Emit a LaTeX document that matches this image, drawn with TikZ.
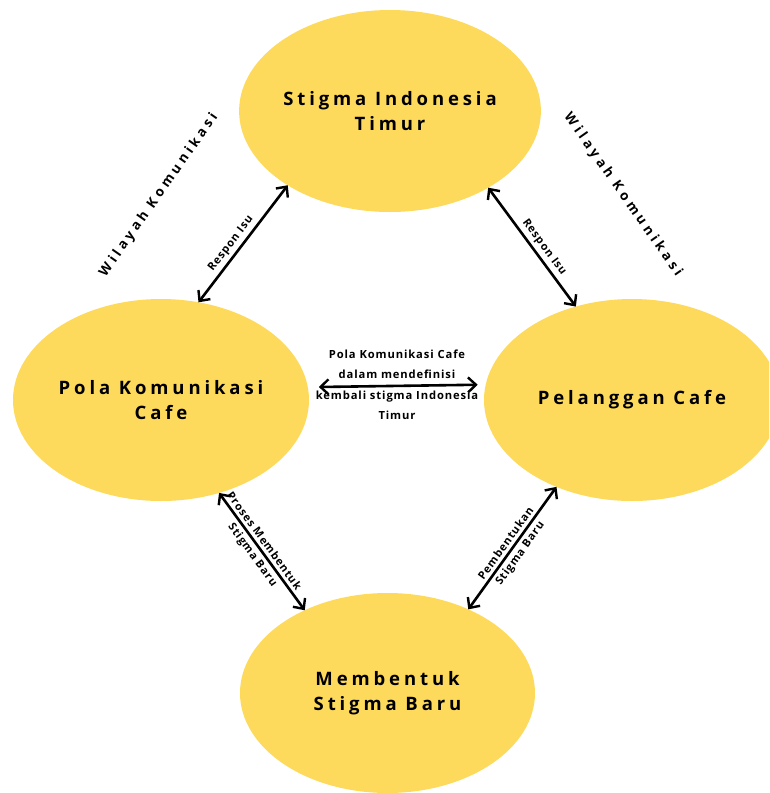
\documentclass[tikz,border=0pt]{standalone}
\usepackage{fontspec}
\setmainfont{Open Sans}[BoldFont={Open Sans Bold}]
\newfontfamily\labfont{Open Sans Bold}[LetterSpace=8]
\newfontfamily\spacedfont{Open Sans Bold}[LetterSpace=21]
\newfontfamily\widefont{Open Sans Bold}[LetterSpace=27]
\usetikzlibrary{arrows.meta,shapes.geometric}
\definecolor{cafeyellow}{HTML}{FDDA5B}
\begin{document}
\begin{tikzpicture}[x=1pt,y=-1pt,
  blob/.style={ellipse, fill=cafeyellow, inner sep=0pt, outer sep=0pt, align=center,
    minimum width=296pt, minimum height=202pt,
    font=\spacedfont\fontsize{18.5}{25}\selectfont},
  link/.style={line width=2.6pt, {Straight Barb[length=8pt,width=15pt,line width=2.4pt]}-{Straight Barb[length=8pt,width=15pt,line width=2.4pt]}},
  lab/.style={font=\labfont\fontsize{11}{12}\selectfont, inner sep=1pt, sloped},
  zone/.style={font=\widefont\fontsize{13.5}{14}\selectfont, inner sep=0pt}]
\useasboundingbox (0,0) rectangle (769,793);
\clip (0,0) rectangle (769,793);
\node[blob] (nTop) at (390,111) {Stigma Indonesia\\Timur};
\node[blob] (nLeft) at (161,400) {Pola Komunikasi\\Cafe};
\node[blob] (nRight) at (632,400) {Pelanggan Cafe};
\node[blob, minimum width=295pt, minimum height=200pt] (nBot) at (387.5,693) {Membentuk\\Stigma Baru};

\draw[link] (nLeft.69.6) -- (nTop.216) node[lab, pos=0.45, above=2pt] {Respon Isu};
\draw[link] (nTop.322) -- (nRight.121.6) node[lab, pos=0.55, above=2pt] {Respon Isu};
\draw[link, shorten <=11pt, shorten >=8pt] (nLeft.5.4) -- (nRight.174.5);
\draw[link] (nLeft.302.2) -- (nBot.135)
  node[lab, pos=0.45, above=2pt] {Proses Membentuk}
  node[lab, pos=0.48, below=2pt] {Stigma Baru};
\draw[link] (nBot.46) -- (nRight.229)
  node[lab, pos=0.5, above=2pt] {Pembentukan}
  node[lab, pos=0.5, below=2pt] {Stigma Baru};

\node[font=\labfont\fontsize{11.2}{20.5}\selectfont, align=center] (mid) at (397,385)
  {Pola Komunikasi Cafe\\dalam mendefinisi\\kembali stigma Indonesia\\Timur};

\node[zone, rotate=55] (wl) at (159,195) {Wilayah Komunikasi};
\node[zone, rotate=-55] (wr) at (623,195) {Wilayah Komunikasi};
\end{tikzpicture}
\end{document}
